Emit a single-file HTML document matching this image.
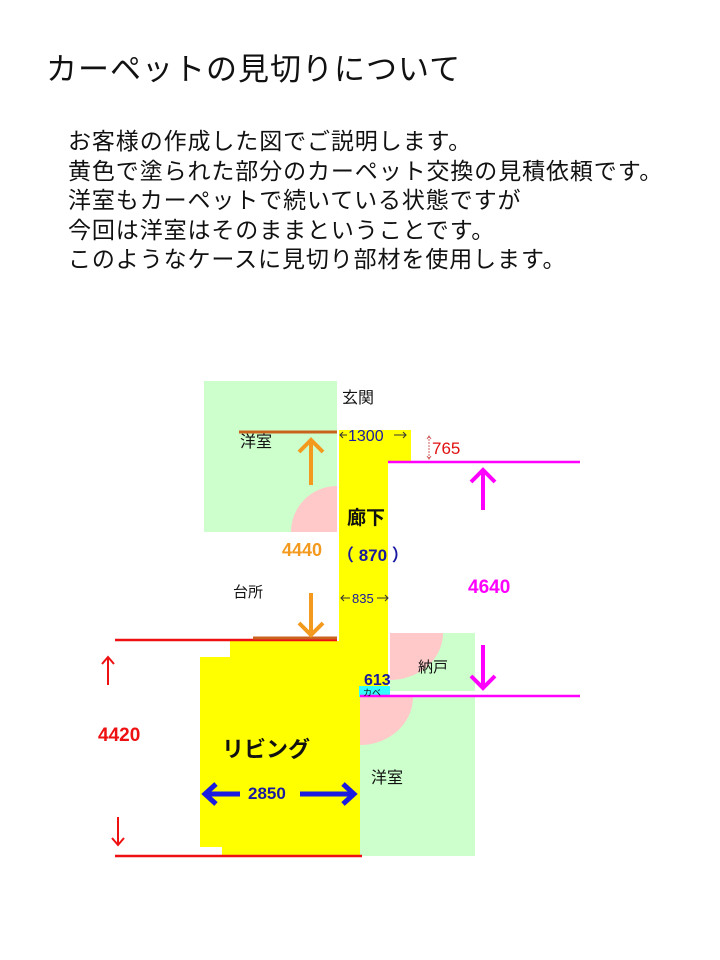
<!DOCTYPE html>
<html><head><meta charset="utf-8"><style>
body{margin:0;width:720px;height:960px;background:#fff;position:relative;overflow:hidden;font-family:"Liberation Sans","Noto Sans CJK JP",sans-serif;}
.t{position:absolute;white-space:nowrap;line-height:1;}
</style></head><body>
<div class="t" style="left:46px;top:54px;font-size:31px;letter-spacing:1px;color:#111;">カーペットの見切りについて</div>
<div class="t" style="left:68px;top:127px;font-size:23px;letter-spacing:0.9px;line-height:29.5px;color:#111;">お客様の作成した図でご説明します。<br>黄色で塗られた部分のカーペット交換の見積依頼です。<br>洋室もカーペットで続いている状態ですが<br>今回は洋室はそのままということです。<br>このようなケースに見切り部材を使用します。</div>

<svg width="720" height="960" style="position:absolute;left:0;top:0" xmlns="http://www.w3.org/2000/svg">
<!-- green rooms -->
<rect x="204" y="381" width="133" height="151" fill="#ccffcc"/>
<path d="M337,532 L291,532 A46,46 0 0 1 337,486 Z" fill="#ffc9c9"/>
<rect x="390" y="633" width="85" height="58" fill="#ccffcc"/>
<path d="M390,633 L443,633 A53,47 0 0 1 390,680 Z" fill="#ffc9c9"/>
<rect x="360" y="697" width="115" height="159" fill="#ccffcc"/>
<path d="M360,697 L413,697 A53,48 0 0 1 360,745 Z" fill="#ffc9c9"/>
<!-- yellow -->
<rect x="339" y="430" width="72" height="32" fill="#ffff00"/>
<rect x="339" y="430" width="49" height="267" fill="#ffff00"/>
<rect x="230" y="641" width="130" height="20" fill="#ffff00"/>
<rect x="200" y="657" width="160" height="190" fill="#ffff00"/>
<rect x="222" y="840" width="138" height="16" fill="#ffff00"/>
<rect x="359" y="686" width="31" height="11" fill="#33ffff"/>
<!-- lines -->
<line x1="239" y1="432" x2="337" y2="432" stroke="#c8641e" stroke-width="3"/>
<line x1="115" y1="640" x2="337" y2="640" stroke="#ee1111" stroke-width="2.5"/>
<line x1="253" y1="638" x2="337" y2="638" stroke="#c8641e" stroke-width="3"/>
<line x1="115" y1="856" x2="362" y2="856" stroke="#ee1111" stroke-width="2.5"/>
<line x1="388" y1="462" x2="580" y2="462" stroke="#ff00ff" stroke-width="2.5"/>
<line x1="360" y1="696" x2="580" y2="696" stroke="#ff00ff" stroke-width="2.5"/>
<!-- orange arrows -->
<g stroke="#f39a1e" stroke-width="4" fill="none">
<line x1="311" y1="440" x2="311" y2="485"/><path d="M299,452 L311,440 L323,452"/>
<line x1="311" y1="593" x2="311" y2="635"/><path d="M299,623 L311,635 L323,623"/>
</g>
<!-- magenta arrows -->
<g stroke="#ff00ff" stroke-width="4" fill="none">
<line x1="483" y1="470" x2="483" y2="510"/><path d="M471,482 L483,470 L495,482"/>
<line x1="483" y1="645" x2="483" y2="688"/><path d="M471,676 L483,688 L495,676"/>
</g>
<!-- red arrows -->
<g stroke="#ee1111" stroke-width="2" fill="none">
<line x1="108" y1="657" x2="108" y2="685"/><path d="M102,664 L108,657 L114,664"/>
<line x1="118" y1="817" x2="118" y2="845"/><path d="M112,838 L118,845 L124,838"/>
</g>
<g stroke="#d06060" stroke-width="1" fill="none">
<line x1="429" y1="436" x2="429" y2="459" stroke-dasharray="2,1"/><path d="M427,439 L429,436 L431,439 M427,456 L429,459 L431,456"/>
</g>
<!-- small blue dimension arrows -->
<g stroke="#333" stroke-width="1" fill="none">
<line x1="340" y1="435" x2="347" y2="435"/><path d="M343,432 L340,435 L343,438"/>
<line x1="394" y1="435" x2="406" y2="435"/><path d="M403,432 L406,435 L403,438"/>
<line x1="341" y1="598" x2="350" y2="598"/><path d="M344,595 L341,598 L344,601"/>
<line x1="377" y1="598" x2="388" y2="598"/><path d="M385,595 L388,598 L385,601"/>
</g>
<!-- big blue arrows -->
<g stroke="#1a1ae0" stroke-width="5" fill="none">
<line x1="206" y1="794" x2="240" y2="794"/><path d="M216,784 L205,794 L216,804"/>
<line x1="300" y1="794" x2="352" y2="794"/><path d="M343,784 L354,794 L343,804"/>
</g>
<!-- labels -->
<g font-family="Liberation Sans, Noto Sans CJK JP, sans-serif">
<text x="342" y="403" font-size="16" fill="#111">玄関</text>
<text x="240" y="447" font-size="16" fill="#111">洋室</text>
<text x="348" y="441" font-size="16" fill="#1a1aa0">1300</text>
<text x="432" y="454" font-size="17" fill="#e01010">765</text>
<text x="347" y="524" font-size="19" font-weight="bold" fill="#111">廊下</text>
<text x="282" y="556" font-size="18" font-weight="bold" fill="#f39a1e">4440</text>
<text x="337" y="561" font-size="17" font-weight="bold" fill="#1a1aa0">（ 870 ）</text>
<text x="233" y="597" font-size="15" fill="#111">台所</text>
<text x="352" y="603" font-size="13" fill="#1a1aa0">835</text>
<text x="468" y="593" font-size="19" font-weight="bold" fill="#ff00ff">4640</text>
<text x="418" y="672" font-size="15" fill="#111">納戸</text>
<text x="364" y="685" font-size="16" font-weight="bold" fill="#1a1aa0">613</text>
<text x="363" y="696" font-size="9" fill="#111">カベ</text>
<text x="98" y="741" font-size="19" font-weight="bold" fill="#ee1111">4420</text>
<text x="222" y="757" font-size="22" font-weight="bold" fill="#111">リビング</text>
<text x="248" y="799" font-size="17" font-weight="bold" fill="#1a1aa0">2850</text>
<text x="371" y="783" font-size="16" fill="#111">洋室</text>
</g>
</svg>
</body></html>
